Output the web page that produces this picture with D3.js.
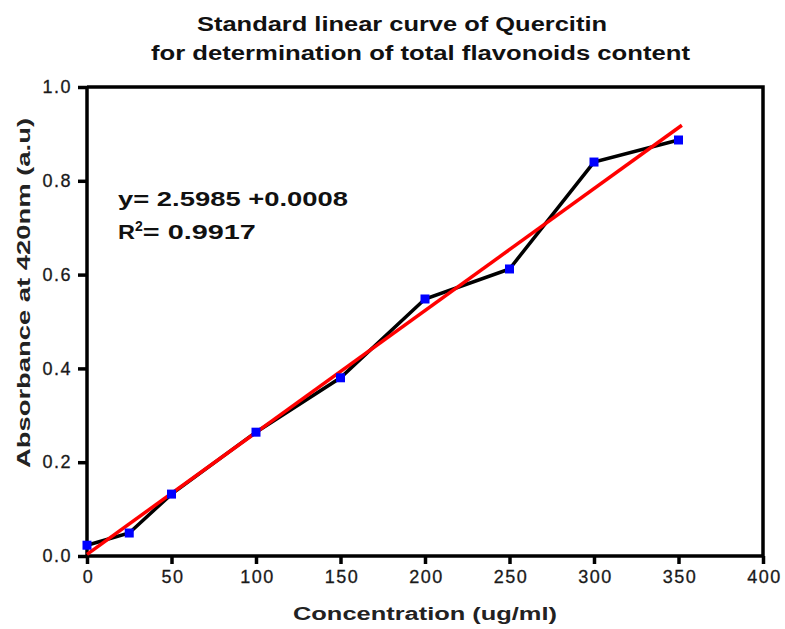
<!DOCTYPE html>
<html>
<head>
<meta charset="utf-8">
<script src="https://cdn.jsdelivr.net/npm/d3@7"></script>
<style>
body { margin: 0; background: #fff; }
svg text { font-family: "Liberation Sans", Arial, sans-serif; }
</style>
</head>
<body>
<div id="chart"></div>
<script>

// data
const concentration = [0, 25, 50, 100, 150, 200, 250, 300, 350]
const absorbance = [0.023, 0.049, 0.132, 0.264, 0.38, 0.548, 0.612, 0.84, 0.887]
const xTicks = [0, 50, 100, 150, 200, 250, 300, 350, 400]
const yTicks = [0, 0.2, 0.4, 0.6, 0.8, 1.0]
const fitRange = [0, 352]
const titleLines = ["Standard linear curve of Quercitin", "for determination of total flavonoids content"]

const width = 785
const height = 629
const margin = {top: 87, right: 22, bottom: 73, left: 87}

const svg = d3.select('#chart').append('svg').attr("width", width).attr("height", height)

const x = d3.scaleLinear().domain([0, 400]).range([margin.left, width - margin.right])
const y = d3.scaleLinear().domain([0, 1]).range([height - margin.bottom, margin.top])

//axes
const axisB = d3.axisBottom(x).tickValues(xTicks).tickFormat(d3.format("d")).tickSize(8).tickPadding(6)
const axisL = d3.axisLeft(y).tickValues(yTicks).tickFormat(d3.format(".1f")).tickSize(9).tickPadding(6)

const gx = svg.append('g').attr("transform", `translate(0,${y(0)})`).call(axisB)
const gy = svg.append('g').attr("transform", `translate(${x(0)},0)`).call(axisL)

;[gx, gy].forEach(g => {
    g.attr("font-family", null).attr("font-size", 18)
    g.select(".domain").attr("stroke", "#000").attr("stroke-width", 3.5)
    g.selectAll(".tick line").attr("stroke", "#000").attr("stroke-width", 3.5)
    g.selectAll(".tick text").attr("fill", "#1a1a1a").attr("letter-spacing", 1.5)
        .attr("stroke", "#1a1a1a").attr("stroke-width", 0.3)
})
gx.selectAll(".tick text").attr("dx", 1)
gx.select(".domain").attr("d", `M${x(0)},0H${x(400)}`)
gy.select(".domain").attr("d", `M0,${y(0)}V${y(1)}`)

// top + right frame
svg.append('path')
    .attr("d", `M${x(0)},${y(1)}H${x(400)}V${y(0)}`)
    .attr("fill", "none")
    .attr("stroke", "#000")
    .attr("stroke-width", 3.5)

const pts = concentration.map((c, i) => ({c: c, a: absorbance[i]}))

// data line
const line = d3.line().x(d => x(d.c)).y(d => y(d.a))
svg.append('path')
    .datum(pts)
    .attr("d", line)
    .attr("fill", "none")
    .attr("stroke", "#000")
    .attr("stroke-width", 3.5)

// least squares fit
const mx = d3.mean(concentration)
const my = d3.mean(absorbance)
const slope = d3.sum(pts, d => (d.c - mx) * (d.a - my)) / d3.sum(pts, d => (d.c - mx) * (d.c - mx))
const icpt = my - slope * mx

svg.append('path')
    .datum(fitRange.map(c => ({c: c, a: icpt + slope * c})))
    .attr("d", line)
    .attr("fill", "none")
    .attr("stroke", "#ff0000")
    .attr("stroke-width", 3.5)

// markers
svg.selectAll('rect.pt')
    .data(pts)
    .enter()
    .append('rect')
    .attr("class", "pt")
    .attr("x", d => x(d.c) - 4.5)
    .attr("y", d => y(d.a) - 4.5)
    .attr("width", 9)
    .attr("height", 9)
    .attr('fill', '#0000ff')

// equation text
svg.append('text')
    .attr("x", 118).attr("y", 206)
    .attr("font-size", 21).attr("font-weight", "bold").attr("fill", "#111")
    .attr("textLength", 230).attr("lengthAdjust", "spacingAndGlyphs")
    .text("y= 2.5985 +0.0008")

const r2 = svg.append('text')
    .attr("x", 118).attr("y", 239)
    .attr("font-size", 21).attr("font-weight", "bold").attr("fill", "#111")
r2.append('tspan').attr("textLength", 17).attr("lengthAdjust", "spacingAndGlyphs").text("R")
r2.append('tspan').attr("font-size", 14).attr("dy", -8).text("2")
r2.append('tspan').attr("dy", 8).attr("textLength", 113).attr("lengthAdjust", "spacingAndGlyphs").text("= 0.9917")

// titles
const titleX = [197, 151]
const titleW = [410, 539]
svg.selectAll('text.title')
    .data(titleLines)
    .enter()
    .append('text')
    .attr("class", "title")
    .attr("x", (d, i) => titleX[i])
    .attr("y", (d, i) => 31 + i * 29)
    .attr("textLength", (d, i) => titleW[i]).attr("lengthAdjust", "spacingAndGlyphs")
    .attr("font-size", 20).attr("font-weight", "bold").attr("fill", "#111")
    .text(d => d)

svg.append('text')
    .attr("x", 293).attr("y", 620)
    .attr("font-size", 18).attr("font-weight", "bold").attr("fill", "#222")
    .attr("textLength", 264).attr("lengthAdjust", "spacingAndGlyphs")
    .text("Concentration (ug/ml)")

svg.append('text')
    .attr("transform", `translate(30,468) rotate(-90)`)
    .attr("font-size", 18).attr("font-weight", "bold").attr("fill", "#222")
    .attr("textLength", 350).attr("lengthAdjust", "spacingAndGlyphs")
    .text("Absorbance at 420nm (a.u)")

</script>
</body>
</html>
